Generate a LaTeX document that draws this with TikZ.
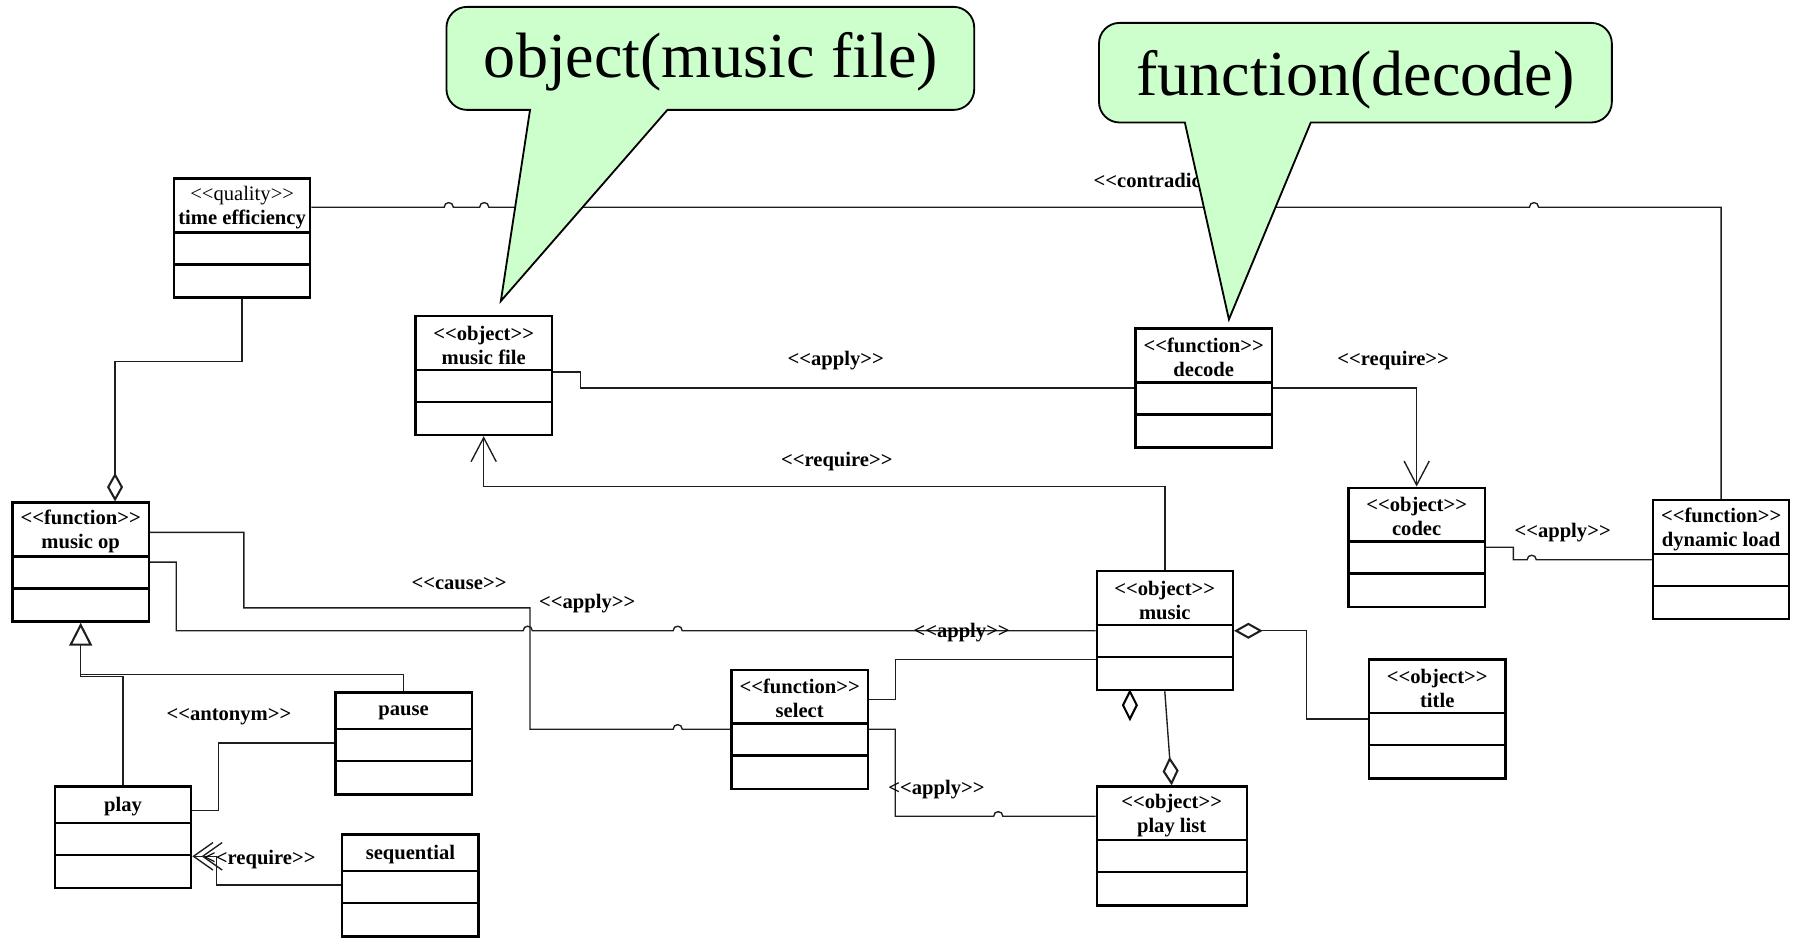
\documentclass[tikz,border=0pt]{standalone}
\usepackage{fontspec}
\setmainfont{Liberation Serif}
\usepackage{tikz}
\usetikzlibrary{arrows.meta,calc}
\definecolor{notegreen}{HTML}{CCFFCC}
\definecolor{umlline}{HTML}{1E1E1E}
\newcommand{\stereo}[1]{<\kern0pt<#1>\kern0pt>}
\newcommand{\hop}{.. controls +(0,-5.3) and +(0,-5.3) .. ++(8,0)}

\begin{document}
\begin{tikzpicture}[x=0.5pt,y=-0.5pt,>=Latex]
\tikzstyle{classbox}=[draw,line width=1pt,inner sep=0pt,anchor=north west]
\tikzstyle{classname}=[font=\fontsize{9}{10.5}\selectfont\bfseries,align=center,inner sep=0pt]
\tikzstyle{conn}=[draw=umlline,line width=0.6pt]
\tikzstyle{stlabel}=[font=\fontsize{9}{10}\selectfont\bfseries,inner sep=0pt]
\tikzstyle{note}=[fill=notegreen,draw,line width=0.8pt]
\tikzstyle{notetext}=[font=\fontsize{28}{32}\selectfont,inner sep=0pt]
\tikzstyle{dep}=[-{Straight Barb[length=10.5pt,width=11pt]}]
\tikzstyle{aggrend}=[-{Diamond[open,length=12.5pt,width=7pt,line width=0.9pt]}]
\tikzstyle{aggrstart}=[{Diamond[open,length=12.5pt,width=7pt,line width=0.9pt]}-]
\newcommand{\umlclass}[5]{%
\node[classbox,minimum width=#3,minimum height=#4+28pt] (#1) at #2 {};
\node[classname] (#1-name) at ([yshift=-#4/2-1.2pt]#1.north) {#5};
\draw[line width=1pt] ([yshift=-#4]#1.north west) -- ([yshift=-#4]#1.north east);
\draw[line width=1pt] ([yshift=-#4-14pt]#1.north west) -- ([yshift=-#4-14pt]#1.north east);
}
\useasboundingbox (0,0) rectangle (1568,819);
\umlclass{tef}{(151,155)}{59.5pt}{24pt}{{\mdseries\stereo{quality}}\\time efficiency}
\umlclass{mfile}{(362,275)}{59.5pt}{24pt}{\stereo{object}\\music file}
\umlclass{decode}{(991,286)}{59.5pt}{24pt}{\stereo{function}\\decode}
\umlclass{codec}{(1177,425)}{59.5pt}{24pt}{\stereo{object}\\codec}
\umlclass{dload}{(1443,436)}{59.5pt}{24pt}{\stereo{function}\\dynamic load}
\umlclass{musicop}{(10,438)}{59.5pt}{24pt}{\stereo{function}\\music op}
\umlclass{music}{(957,498)}{59.5pt}{24pt}{\stereo{object}\\music}
\umlclass{select}{(638,584)}{59.5pt}{24pt}{\stereo{function}\\select}
\umlclass{title}{(1195,575)}{59.5pt}{24pt}{\stereo{object}\\title}
\umlclass{pause}{(292,604)}{59.5pt}{16.5pt}{pause}
\umlclass{play}{(47,686)}{59.5pt}{16.5pt}{play}
\umlclass{plist}{(957,686)}{65.5pt}{24pt}{\stereo{object}\\play list}
\umlclass{seq}{(298,728)}{59.5pt}{16.5pt}{sequential}
% relations
\draw[conn] ([yshift=-13pt]tef.north east) -- ++(116,0) \hop -- ++(23,0) \hop -- ++(909,0) \hop -| (dload.north);
\draw[conn,aggrend] (tef.south) -- ++(0,55) -| ([xshift=15pt]musicop.north);
\draw[conn] ([yshift=-25pt]mfile.north east) -- ++(24,0) |- (decode.west);
\draw[conn,dep] (decode.east) -| (codec.north);
\draw[conn,dep] (music.north) -- ++(0,-73) -| (mfile.south);
\draw[conn] ([yshift=-26.5pt]codec.north east) -- ++(24,0) |- ([xshift=-54.5pt]dload.west) \hop -- (dload.west);
\draw[conn] ([yshift=-13.5pt]musicop.north east) -- ++(82,0) -- ++(0,66) -- ++(250,0) |- ([xshift=-25pt]select.west) \hop -- (select.west);
\draw[conn] ([yshift=-26.5pt]musicop.north east) -- ++(23,0) |- ([xshift=-250pt]music.west) \hop -- ++(123,0) \hop -- (music.west);
\draw[conn] ([yshift=-13.5pt]select.north east) -- ++(23,0) |- ([yshift=-39pt]music.north west);
\draw[conn] (select.east) -- ++(23,0) |- ([shift={(-89,27)}]plist.north west) \hop -- ([yshift=-13.5pt]plist.north west);
\draw[conn,aggrend] (music.south) -- (plist.north);
\draw[line width=0.9pt] ([xshift=15pt]music.south west) -- ++(6,12) -- ++(-6,12) -- ++(-6,-12) -- cycle;
\draw[conn,aggrstart] (music.east) -- ++(63,0) |- (title.west);
\draw[conn,-{Triangle[open,length=10pt,width=10pt,line width=0.9pt]}] (play.north) -- ++(0,-95) -| (musicop.south);
\draw[conn] (pause.north) -- ++(0,-15) -| ([yshift=-10pt]musicop.south);
\draw[conn] ([yshift=-11pt]play.north east) -- ++(23,0) |- ([yshift=-22.5pt]pause.north west);
\draw[conn,-{Straight Barb[length=8.5pt,width=12pt,sep=-5.3pt] Straight Barb[length=8.5pt,width=12pt]}] ([yshift=-22.5pt]seq.north west) -- ++(-109,0) |- ([yshift=-31pt]play.north east);
% stereotype labels
\node[stlabel,anchor=west] (lbl-contra) at (955,158) {\stereo{contradiction}};
\node[stlabel] (lbl-apply1) at (730,315) {\stereo{apply}};
\node[stlabel] (lbl-req1) at (1217,315) {\stereo{require}};
\node[stlabel] (lbl-req2) at (731,403) {\stereo{require}};
\node[stlabel] (lbl-apply2) at (1365,465) {\stereo{apply}};
\node[stlabel] (lbl-cause) at (401,510) {\stereo{cause}};
\node[stlabel] (lbl-apply3) at (513,527) {\stereo{apply}};
\node[stlabel] (lbl-apply4) at (840,553) {\stereo{apply}};
\node[stlabel] (lbl-apply5) at (818,690) {\stereo{apply}};
\node[stlabel] (lbl-anto) at (200,626) {\stereo{antonym}};
\node[stlabel] (lbl-req3) at (227,751) {\stereo{require}};
% callouts
\coordinate (tip1) at ([shift={(15,-12)}]mfile.north);
\draw[note] (tip1) -- (583,96) [rounded corners=9pt] -- (851,96) -- (851,6) -- (390,6) -- (390,96) [sharp corners] -- (463,96) -- cycle;
\node[notetext] (note1) at (621,54) {object(music file)};
\coordinate (tip2) at ([shift={(22,-7)}]decode.north);
\draw[note] (tip2) -- (1145,107) [rounded corners=9pt] -- (1408,107) -- (1408,20) -- (960,20) -- (960,107) [sharp corners] -- (1035,107) -- cycle;
\node[notetext] (note2) at (1184,70) {function(decode)};
\end{tikzpicture}
\end{document}
